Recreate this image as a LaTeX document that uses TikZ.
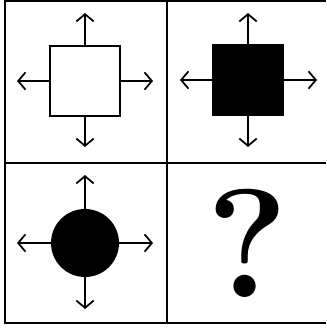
\documentclass[tikz,border=0pt]{standalone}
\usepackage{fix-cm}
\usetikzlibrary{arrows.meta}

\tikzset{
  grid/.style={line width=2.1pt},
  shapebox/.style={draw, line width=2.2pt, minimum size=52.5pt, inner sep=0pt},
  spoke/.style={line width=1.3pt, -{Straight Barb[length=5.5pt, width=13pt, line width=1.3pt]}}
}

\begin{document}
\begin{tikzpicture}[x=0.75pt, y=-0.75pt]
  \useasboundingbox (0,0) rectangle (326,328);
  % grid
  \draw[grid] (326,1) -- (5,1) -- (5,323) -- (326,323);
  \draw[grid] (167,0) -- (167,324);
  \draw[grid] (5,163) -- (326,163);
  % top left: open square
  \node[shapebox, fill=white] (sq1) at (85,81) {};
  \coordinate (sq1n) at (85,13);
  \coordinate (sq1s) at (85,147);
  \coordinate (sq1w) at (17,81);
  \coordinate (sq1e) at (153,81);
  \foreach \d/\c in {north/n, south/s, west/w, east/e}
    \draw[spoke] (sq1.\d) -- (sq1\c);
  % top right: filled square
  \node[shapebox, fill=black] (sq2) at (248,80) {};
  \coordinate (sq2n) at (248,13);
  \coordinate (sq2s) at (248,147);
  \coordinate (sq2w) at (180,80);
  \coordinate (sq2e) at (317,80);
  \foreach \d/\c in {north/n, south/s, west/w, east/e}
    \draw[spoke] (sq2.\d) -- (sq2\c);
  % bottom left: filled circle
  \node[circle, fill=black, minimum size=51pt, inner sep=0pt] (dot) at (85,243) {};
  \coordinate (dotn) at (85,175);
  \coordinate (dots) at (85,309);
  \coordinate (dotw) at (17,243);
  \coordinate (dote) at (153,243);
  \foreach \d/\c in {north/n, south/s, west/w, east/e}
    \draw[spoke] (dot.\d) -- (dot\c);
  % bottom right: question mark
  \node[font=\fontsize{116}{116}\selectfont\bfseries, inner sep=0pt] (ask) at (248,243) {?};
\end{tikzpicture}
\end{document}
